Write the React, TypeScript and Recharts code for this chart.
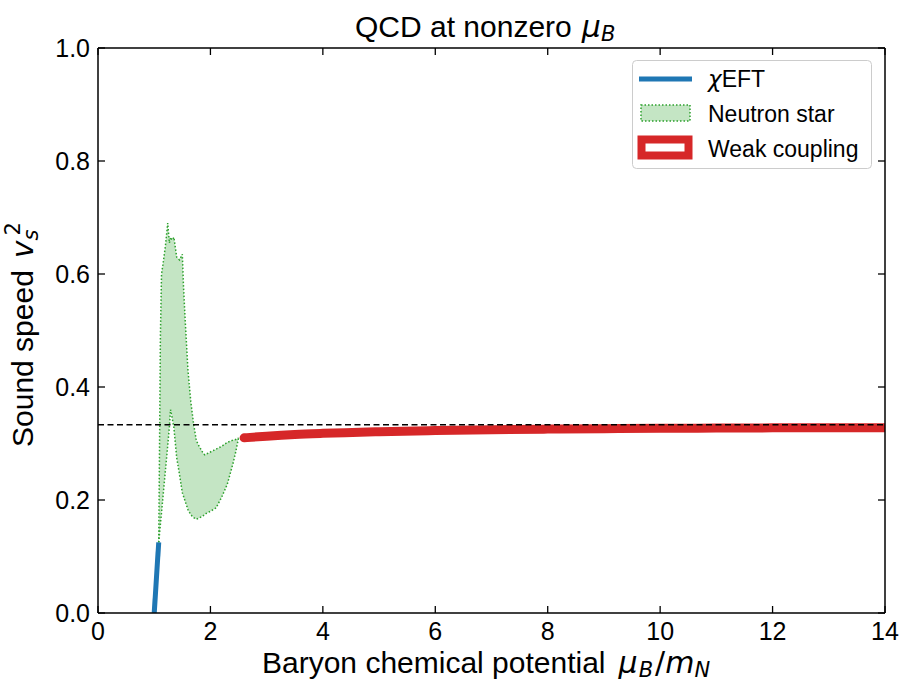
import React from "react";
import { ComposedChart, Line, Area, XAxis, YAxis, ReferenceLine } from "recharts";

const BLUE = "#1f77b4";
const GREEN = "#2ca02c";
const RED = "#d62728";
const FONT = "'Liberation Sans', Arial, sans-serif";
const MATH = "'DejaVu Sans', sans-serif";

const xTicks = [0, 2, 4, 6, 8, 10, 12, 14];
const yTicks = [0, 0.2, 0.4, 0.6, 0.8, 1.0];

// chiral EFT
const chiEftMu = [1.0, 1.08];
const chiEftCs2 = [0, 0.125];

// neutron star band
const nsMu = [1.08, 1.095, 1.11, 1.13, 1.16, 1.2, 1.24, 1.27, 1.29, 1.32, 1.35, 1.4, 1.45, 1.5, 1.52, 1.55, 1.6, 1.65, 1.7, 1.75, 1.8, 1.87, 1.9, 2.0, 2.1, 2.2, 2.3, 2.4, 2.45, 2.5];
const nsUpper = [0.125, 0.3, 0.49, 0.6, 0.62, 0.65, 0.69, 0.655, 0.665, 0.66, 0.665, 0.63, 0.625, 0.635, 0.58, 0.52, 0.43, 0.375, 0.335, 0.305, 0.295, 0.283, 0.28, 0.285, 0.29, 0.295, 0.302, 0.306, 0.307, 0.31];
const nsLower = [0.125, 0.141, 0.157, 0.178, 0.21, 0.253, 0.296, 0.33, 0.36, 0.345, 0.328, 0.275, 0.245, 0.213, 0.207, 0.198, 0.183, 0.174, 0.169, 0.166, 0.168, 0.172, 0.175, 0.18, 0.186, 0.205, 0.228, 0.264, 0.285, 0.31];

// perturbative QCD (weak coupling)
const pertMu = [2.6, 3, 3.5, 4, 4.66, 5, 6, 7, 8, 9, 10, 11, 12, 13, 14];
const pertCs2 = [0.31, 0.313, 0.316, 0.318, 0.32, 0.321, 0.323, 0.3245, 0.3255, 0.3263, 0.327, 0.3273, 0.3277, 0.328, 0.328];

const conformal = 1 / 3;

const chiEftData = chiEftMu.map((mu, i) => ({ mu, cs2: chiEftCs2[i] }));
const nsData = nsMu.map((mu, i) => ({ mu, band: [nsLower[i], nsUpper[i]] }));
const pertData = pertMu.map((mu, i) => ({ mu, cs2: pertCs2[i] }));

const TICK_LEN = 7;

const BottomTick = (props: any) => {
  const { x, y, payload } = props;
  return (
    <g>
      <line x1={x} x2={x} y1={y - 9} y2={y - 9 - TICK_LEN} stroke="#000" strokeWidth={1.3} />
      <text x={x} y={y} dy="0.71em" textAnchor="middle" fontSize={25} fontFamily={FONT} fill="#000">
        {payload.value}
      </text>
    </g>
  );
};

const LeftTick = (props: any) => {
  const { x, y, payload } = props;
  return (
    <g>
      <line x1={x + 8} x2={x + 8 + TICK_LEN} y1={y} y2={y} stroke="#000" strokeWidth={1.3} />
      <text x={x} y={y} dy="0.355em" textAnchor="end" fontSize={25} fontFamily={FONT} fill="#000">
        {Number(payload.value).toFixed(1)}
      </text>
    </g>
  );
};

const TopTick = (props: any) => {
  const { x, y } = props;
  return <line x1={x} x2={x} y1={y} y2={y + TICK_LEN} stroke="#000" strokeWidth={1.3} />;
};

const RightTick = (props: any) => {
  const { x, y } = props;
  return <line x1={x} x2={x - TICK_LEN} y1={y} y2={y} stroke="#000" strokeWidth={1.3} />;
};

const LegendBox = () => (
  <g transform="translate(632 60)">
    <rect x={0.5} y={0.5} width={239} height={108} rx={4} fill="#fff" fillOpacity={0.8} stroke="#cccccc" />
    <line x1={7} x2={60} y1={19} y2={19} stroke={BLUE} strokeWidth={5} />
    <rect x={9} y={45} width={49} height={16} fill={GREEN} fillOpacity={0.28} stroke={GREEN} strokeWidth={1.5} strokeDasharray="1.5 2" />
    <rect x={9.5} y={79.5} width={47} height={16} fill="#fff" stroke={RED} strokeWidth={8} />
    <g fontFamily={FONT} fontSize={23} fill="#000">
      <text x={76} y={27}>
        <tspan fontStyle="italic" fontFamily={MATH}>χ</tspan>EFT
      </text>
      <text x={76} y={62}>Neutron star</text>
      <text x={76} y={97}>Weak coupling</text>
    </g>
  </g>
);

export default function App() {
  return (
    <div style={{ position: "absolute", left: 0, top: 0, width: 902, height: 683, background: "#fff" }}>
      <ComposedChart width={902} height={683} margin={{ top: 47, right: 16, bottom: 0, left: 0 }}>
        <XAxis
          xAxisId="b"
          type="number"
          dataKey="mu"
          domain={[0, 14]}
          ticks={xTicks}
          allowDataOverflow
          height={70}
          tickSize={0}
          tickMargin={9}
          tickLine={false}
          axisLine={{ stroke: "#000", strokeWidth: 1.5 }}
          tick={<BottomTick />}
          interval={0}
        />
        <XAxis
          xAxisId="t"
          orientation="top"
          type="number"
          dataKey="mu"
          domain={[0, 14]}
          ticks={xTicks}
          allowDataOverflow
          height={1}
          tickSize={0}
          tickMargin={0}
          tickLine={false}
          axisLine={{ stroke: "#000", strokeWidth: 1.5 }}
          tick={<TopTick />}
          interval={0}
        />
        <YAxis
          yAxisId="l"
          type="number"
          domain={[0, 1]}
          ticks={yTicks}
          allowDataOverflow
          width={98}
          tickSize={0}
          tickMargin={8}
          tickLine={false}
          axisLine={{ stroke: "#000", strokeWidth: 1.5 }}
          tick={<LeftTick />}
          interval={0}
        />
        <YAxis
          yAxisId="r"
          orientation="right"
          type="number"
          domain={[0, 1]}
          ticks={yTicks}
          allowDataOverflow
          width={1}
          tickSize={0}
          tickMargin={0}
          tickLine={false}
          axisLine={{ stroke: "#000", strokeWidth: 1.5 }}
          tick={<RightTick />}
          interval={0}
        />
        <Area
          xAxisId="b"
          yAxisId="l"
          data={nsData}
          dataKey="band"
          type="linear"
          fill={GREEN}
          fillOpacity={0.28}
          stroke={GREEN}
          strokeWidth={1.5}
          strokeDasharray="1.5 2"
          isAnimationActive={false}
          dot={false}
          activeDot={false}
        />
        <Line
          xAxisId="b"
          yAxisId="l"
          data={chiEftData}
          dataKey="cs2"
          type="linear"
          stroke={BLUE}
          strokeWidth={5}
          dot={false}
          activeDot={false}
          isAnimationActive={false}
        />
        <Line
          xAxisId="b"
          yAxisId="l"
          data={pertData}
          dataKey="cs2"
          type="monotone"
          stroke={RED}
          strokeWidth={9}
          strokeLinecap="round"
          dot={false}
          activeDot={false}
          isAnimationActive={false}
        />
        {/* invisible series so the top/right frame axes are bound */}
        <Line
          xAxisId="t"
          yAxisId="r"
          data={pertData}
          dataKey="cs2"
          stroke="none"
          dot={false}
          activeDot={false}
          isAnimationActive={false}
        />
        <ReferenceLine xAxisId="b" yAxisId="l" y={conformal} stroke="#000" strokeWidth={1.5} strokeDasharray="6 3.5" />
      </ComposedChart>
      <svg
        width={902}
        height={683}
        style={{ position: "absolute", left: 0, top: 0, pointerEvents: "none" }}
        fontFamily={FONT}
        fill="#000"
      >
        <LegendBox />
        <text x={355} y={36.5} fontSize={30}>
          QCD at nonzero
          <tspan fontStyle="italic" fontFamily={MATH} dx={10}>μ</tspan>
          <tspan fontStyle="italic" fontFamily={MATH} fontSize={21} dy={4}>B</tspan>
        </text>
        <text x={262} y={673} fontSize={30}>
          Baryon chemical potential
          <tspan fontStyle="italic" fontFamily={MATH} dx={13}>μ</tspan>
          <tspan fontStyle="italic" fontFamily={MATH} fontSize={21} dx={1} dy={4}>B</tspan>
          <tspan fontFamily={MATH} dx={2} dy={-4}>/</tspan>
          <tspan fontStyle="italic" fontFamily={MATH}>m</tspan>
          <tspan fontStyle="italic" fontFamily={MATH} fontSize={21} dy={4}>N</tspan>
        </text>
        <text x={33} y={447} transform="rotate(-90 33 447)" textAnchor="start" fontSize={30}>
          Sound speed
          <tspan fontStyle="italic" fontFamily={MATH} dx={12}>v</tspan>
          <tspan fontStyle="italic" fontFamily={MATH} fontSize={21} dy={5}>s</tspan>
          <tspan fontFamily={MATH} fontSize={21} dx={-6} dy={-18}>2</tspan>
        </text>
      </svg>
    </div>
  );
}
